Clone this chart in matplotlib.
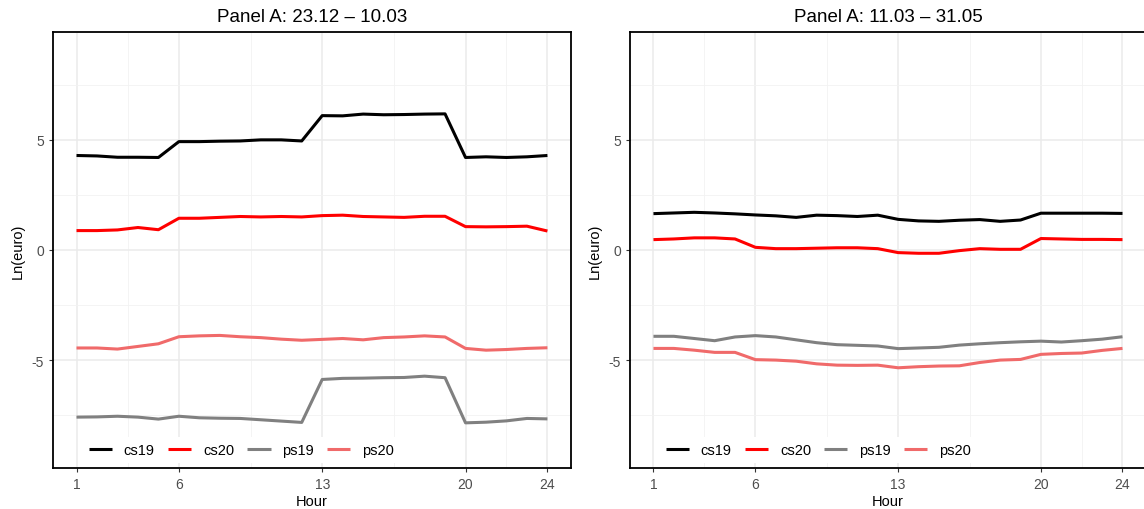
import matplotlib
matplotlib.use('Agg')
import matplotlib.pyplot as plt

plt.rcParams['font.family'] = ['Liberation Sans', 'DejaVu Sans']

hours = list(range(1, 25))

# Panel 1: 23.12 - 10.03
cs19_a = [4.29, 4.27, 4.21, 4.21, 4.20, 4.92, 4.92, 4.94, 4.95, 5.00, 5.00, 4.95,
          6.10, 6.09, 6.17, 6.14, 6.15, 6.17, 6.18, 4.20, 4.23, 4.20, 4.23, 4.29]
cs20_a = [0.88, 0.88, 0.91, 1.02, 0.92, 1.44, 1.44, 1.48, 1.52, 1.50, 1.52, 1.50,
          1.56, 1.58, 1.52, 1.50, 1.48, 1.53, 1.53, 1.06, 1.05, 1.06, 1.08, 0.86]
ps19_a = [-7.59, -7.58, -7.55, -7.59, -7.68, -7.55, -7.62, -7.64, -7.65, -7.71, -7.77, -7.83,
          -5.88, -5.83, -5.82, -5.80, -5.79, -5.73, -5.80, -7.85, -7.82, -7.76, -7.65, -7.67]
ps20_a = [-4.45, -4.45, -4.50, -4.38, -4.26, -3.94, -3.90, -3.88, -3.94, -3.98, -4.05, -4.10,
          -4.06, -4.02, -4.08, -3.98, -3.95, -3.90, -3.95, -4.47, -4.55, -4.52, -4.47, -4.44]

# Panel 2: 11.03 - 31.05
cs19_b = [1.65, 1.68, 1.71, 1.68, 1.64, 1.59, 1.55, 1.48, 1.58, 1.56, 1.52, 1.58,
          1.39, 1.32, 1.30, 1.35, 1.38, 1.30, 1.36, 1.67, 1.67, 1.67, 1.67, 1.66]
cs20_b = [0.47, 0.50, 0.55, 0.55, 0.50, 0.12, 0.06, 0.06, 0.08, 0.10, 0.10, 0.06,
          -0.12, -0.15, -0.15, -0.03, 0.06, 0.03, 0.03, 0.52, 0.50, 0.48, 0.48, 0.47]
ps19_b = [-3.92, -3.92, -4.02, -4.12, -3.95, -3.89, -3.95, -4.08, -4.21, -4.30, -4.33, -4.36,
          -4.48, -4.45, -4.42, -4.32, -4.26, -4.21, -4.17, -4.14, -4.18, -4.12, -4.05, -3.94]
ps20_b = [-4.47, -4.47, -4.55, -4.65, -4.65, -4.98, -5.00, -5.05, -5.17, -5.23, -5.24, -5.23,
          -5.35, -5.30, -5.27, -5.26, -5.11, -5.00, -4.97, -4.74, -4.70, -4.68, -4.56, -4.47]

series_names = ['cs19', 'cs20', 'ps19', 'ps20']
series_colors = ['black', '#FF0000', '#808080', '#F06A6A']
titles = ['Panel A: 23.12 \u2013 10.03', 'Panel A: 11.03 \u2013 31.05']
panels = [[cs19_a, cs20_a, ps19_a, ps20_a], [cs19_b, cs20_b, ps19_b, ps20_b]]

x_ticks = [1, 6, 13, 20, 24]
x_minor = [3.5, 9.5, 16.5, 22]
y_ticks = [-5, 0, 5]
y_minor = [-7.5, -2.5, 2.5, 7.5]

fig = plt.figure(figsize=(11.44, 5.10), dpi=100)
positions = [[0.0463, 0.0804, 0.4528, 0.855], [0.5507, 0.0804, 0.4510, 0.855]]

for pos, data, title in zip(positions, panels, titles):
    ax = fig.add_axes(pos)
    for vals, name, col in zip(data, series_names, series_colors):
        ax.plot(hours, vals, color=col, lw=2.2, label=name, solid_capstyle='butt')
    ax.set_xlim(1 - 1.15, 24 + 1.15)
    ax.set_ylim(-9.9, 9.9)
    ax.set_xticks(x_ticks)
    ax.set_xticks(x_minor, minor=True)
    ax.set_yticks(y_ticks)
    ax.set_yticklabels(['-5', '0', '5'])
    ax.set_yticks(y_minor, minor=True)
    ax.grid(which='major', color='#EBEBEB', lw=1.1)
    ax.grid(which='minor', color='#F2F2F2', lw=0.6)
    ax.set_axisbelow(True)
    ax.tick_params(which='major', length=3, width=0.8, color='#333333',
                   labelcolor='#4D4D4D', labelsize=10, pad=3.5)
    ax.tick_params(which='minor', length=0)
    for sp in ax.spines.values():
        sp.set_color('black')
        sp.set_linewidth(1.3)
    ax.set_title(title, fontsize=13.5, pad=8)
    ax.set_xlabel('Hour', fontsize=10.5, labelpad=2)
    ax.set_ylabel('Ln(euro)', fontsize=10.5, labelpad=5)
    leg = ax.legend(loc='lower left', ncol=4, bbox_to_anchor=(0.058, 0.012),
                    borderaxespad=0, frameon=True, fontsize=10.5, handlelength=1.6,
                    handletextpad=0.8, columnspacing=0.9, borderpad=0.4)
    leg.get_frame().set_facecolor('white')
    leg.get_frame().set_edgecolor('none')
    leg.get_frame().set_alpha(1)

fig.savefig('out.png', dpi=100)
